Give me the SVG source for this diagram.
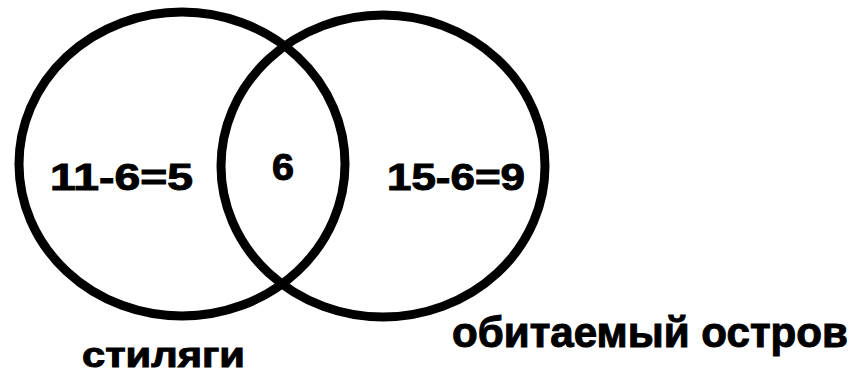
<svg xmlns="http://www.w3.org/2000/svg" width="860" height="374" viewBox="0 0 860 374">
<style>
.set{fill:none;stroke:#000;stroke-width:9}
.t{font-family:"Liberation Sans",Arial,sans-serif;font-weight:bold;fill:#000;stroke:#000;stroke-width:1}
</style>
<rect width="860" height="374" fill="#fff"/>
<g id="set-left">
<ellipse class="set" cx="182" cy="164" rx="163" ry="152"/>
<text class="t" x="50" y="190" font-size="37" textLength="143" lengthAdjust="spacingAndGlyphs">11-6=5</text>
<text class="t" x="82" y="367" font-size="35" textLength="163" lengthAdjust="spacingAndGlyphs">стиляги</text>
</g>
<g id="set-right">
<ellipse class="set" cx="383" cy="166" rx="162" ry="151"/>
<text class="t" x="387" y="190" font-size="37" textLength="138" lengthAdjust="spacingAndGlyphs">15-6=9</text>
<text class="t" x="452" y="347" font-size="42" textLength="396" lengthAdjust="spacingAndGlyphs">обитаемый остров</text>
</g>
<g id="intersection">
<text class="t" x="272" y="180" font-size="36" textLength="22" lengthAdjust="spacingAndGlyphs">6</text>
</g>
</svg>
